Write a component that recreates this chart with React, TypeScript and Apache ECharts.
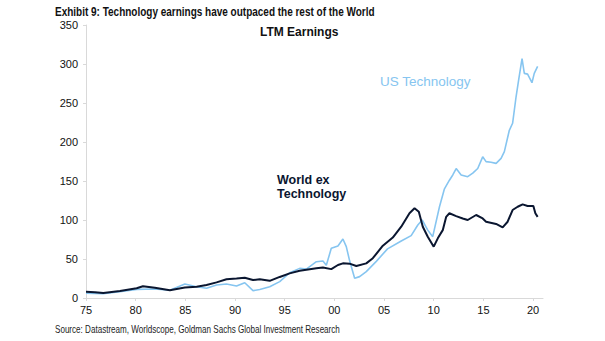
import React, { useEffect, useRef } from "react";
import * as echarts from "echarts";

const worldYears = [1975.0, 1975.9, 1976.74, 1978.42, 1980.1, 1980.73, 1981.93, 1983.44, 1984.95, 1986.13, 1987.13, 1988.14, 1989.14, 1990.15, 1990.98, 1991.81, 1992.49, 1993.49, 1994.5, 1995.5, 1996.51, 1998.19, 1998.85, 1999.69, 2000.36, 2000.86, 2001.53, 2002.21, 2003.21, 2003.87, 2004.88, 2005.88, 2006.73, 2007.56, 2008.07, 2008.5, 2008.9, 2009.4, 2010.0, 2010.41, 2010.91, 2011.25, 2011.58, 2012.26, 2012.92, 2013.42, 2014.27, 2014.93, 2015.27, 2016.28, 2016.94, 2017.44, 2017.94, 2018.45, 2018.95, 2019.45, 2020.03, 2020.23, 2020.46];
const worldValues = [8, 7.5, 6.5, 9, 12.5, 15, 13, 10, 13.5, 14.5, 16.7, 20, 24, 25, 26, 23, 24, 22, 27, 31.6, 35, 38, 39, 37, 42.3, 44.4, 44, 41, 44.4, 51, 67, 77.5, 91.4, 108.6, 115, 110.6, 91.4, 78.6, 65.8, 76.5, 87, 104, 108.6, 105, 102, 100, 106.4, 102, 97.8, 94.9, 90.6, 97.8, 112.8, 117, 120, 118, 118, 108.6, 104];

const usTechYears = [1975.0, 1976.7, 1978.4, 1980.1, 1981.93, 1983.44, 1984.95, 1986.13, 1987.13, 1988.14, 1989.14, 1990.15, 1990.98, 1991.81, 1992.49, 1993.49, 1994.5, 1995.5, 1996.51, 1997.18, 1998.19, 1998.85, 1999.19, 1999.69, 2000.36, 2000.86, 2001.2, 2001.53, 2002.04, 2002.54, 2003.21, 2004.22, 2005.35, 2006.73, 2007.73, 2008.4, 2008.84, 2009.4, 2009.9, 2010.58, 2011.08, 2011.58, 2011.92, 2012.26, 2012.76, 2013.42, 2013.93, 2014.43, 2014.93, 2015.27, 2015.77, 2016.28, 2016.78, 2017.11, 2017.61, 2017.94, 2018.29, 2018.55, 2018.89, 2019.12, 2019.45, 2019.89, 2020.12, 2020.46];
const usTechValues = [6, 5.5, 8, 11, 11.5, 10, 18, 14.5, 12.4, 16.7, 18, 15.4, 19.6, 9.4, 11, 14.5, 21, 32.4, 38, 37, 46.5, 47.4, 42, 63.7, 66.7, 75.6, 65.8, 48, 25.2, 27.4, 33.8, 47, 63, 73, 80, 93.6, 100, 87, 78.6, 117, 140, 151, 157.7, 166, 157.7, 155.5, 160, 166, 181, 174.8, 174, 172.6, 179, 187.6, 215, 224, 258, 279.5, 307, 288, 287, 276, 288, 297];

const xTickYears = [1975, 1980, 1985, 1990, 1995, 2000, 2005, 2010, 2015, 2020];
const xTickLabels = ["75", "80", "85", "90", "95", "00", "05", "10", "15", "20"];

const titleText = "Exhibit 9: Technology earnings have outpaced the rest of the World";
const sourceText = "Source: Datastream, Worldscope, Goldman Sachs Global Investment Research";

export default function App() {
  const ref = useRef<HTMLDivElement>(null);
  useEffect(() => {
    if (!ref.current) return;
    const chart = echarts.init(ref.current, null, { renderer: "svg" });
    const arial = "'Liberation Sans', Arial, sans-serif";
    chart.setOption({
      animation: false,
      backgroundColor: "#ffffff",
      grid: { left: 86, right: 62, top: 25, bottom: 43, containLabel: false },
      xAxis: {
        type: "value",
        min: 1975,
        max: 2021,
        interval: 5,
        splitLine: { show: false },
        axisLine: { show: true, lineStyle: { color: "#d9d9d9", width: 1 } },
        axisTick: { show: true, length: 3, lineStyle: { color: "#d9d9d9" }, customValues: xTickYears },
        axisLabel: {
          customValues: xTickYears,
          formatter: (v: number) => {
            const i = xTickYears.indexOf(Math.round(v));
            return i >= 0 ? xTickLabels[i] : "";
          },
          color: "#111",
          fontFamily: arial,
          fontSize: 11,
          margin: 6,
        },
      },
      yAxis: {
        type: "value",
        min: 0,
        max: 350,
        interval: 50,
        splitLine: { show: false },
        axisLine: { show: true, lineStyle: { color: "#d9d9d9", width: 1 } },
        axisTick: { show: true, length: 3, lineStyle: { color: "#d9d9d9" } },
        axisLabel: { color: "#111", fontFamily: arial, fontSize: 11, margin: 8 },
      },
      series: [
        {
          name: "US Technology",
          type: "line",
          data: usTechYears.map((y, i) => [y, usTechValues[i]]),
          showSymbol: false,
          smooth: false,
          lineStyle: { color: "#86c5f0", width: 1.6 },
          z: 2,
        },
        {
          name: "World ex Technology",
          type: "line",
          data: worldYears.map((y, i) => [y, worldValues[i]]),
          showSymbol: false,
          smooth: false,
          lineStyle: { color: "#0a1630", width: 2 },
          z: 3,
        },
      ],
      graphic: [
        {
          type: "text",
          x: 55,
          y: 5,
          scaleX: 0.8,
          style: { text: titleText, fontFamily: arial, fontWeight: "bold", fontSize: 12.5, fill: "#111", verticalAlign: "top" },
        },
        {
          type: "text",
          left: 260,
          top: 26,
          style: { text: "LTM Earnings", fontFamily: arial, fontWeight: "bold", fontSize: 12, fill: "#111" },
        },
        {
          type: "text",
          left: 380,
          top: 74,
          style: { text: "US Technology", fontFamily: arial, fontSize: 13.5, fill: "#86c5f0" },
        },
        {
          type: "text",
          left: 277,
          top: 173,
          style: { text: "World ex\nTechnology", fontFamily: arial, fontWeight: "bold", fontSize: 12.5, lineHeight: 14, fill: "#0a1630" },
        },
        {
          type: "text",
          x: 55,
          y: 324,
          scaleX: 0.735,
          style: { text: sourceText, fontFamily: arial, fontSize: 11, fill: "#222", verticalAlign: "top" },
        },
      ],
    });
    return () => chart.dispose();
  }, []);
  return <div ref={ref} style={{ position: "fixed", left: 0, top: 0, width: 605, height: 341 }} />;
}
